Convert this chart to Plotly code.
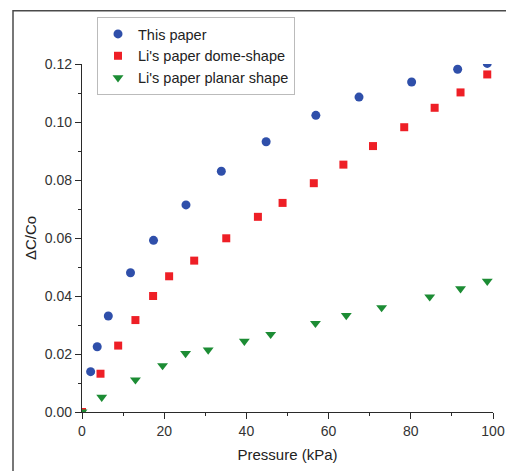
import plotly.graph_objects as go

# Data
x_this = [2.1, 3.7, 6.4, 11.8, 17.4, 25.3, 33.9, 44.8, 56.9, 67.4, 80.2, 91.4, 98.6]
y_this = [0.0139, 0.0225, 0.0331, 0.0480, 0.0592, 0.0714, 0.0830, 0.0932, 0.1023, 0.1086, 0.1138, 0.1182, 0.1202]

x_dome = [0, 4.5, 8.8, 13.0, 17.3, 21.2, 27.3, 35.1, 42.8, 48.8, 56.4, 63.6, 70.8, 78.4, 85.8, 92.1, 98.6]
y_dome = [0, 0.0132, 0.0229, 0.0317, 0.0400, 0.0468, 0.0522, 0.0599, 0.0673, 0.0721, 0.0789, 0.0853, 0.0917, 0.0982, 0.1049, 0.1102, 0.1164]

x_planar = [0, 4.8, 13.0, 19.6, 25.2, 30.7, 39.5, 45.9, 56.8, 64.3, 72.9, 84.6, 92.1, 98.6]
y_planar = [0, 0.0051, 0.0111, 0.0160, 0.0202, 0.0214, 0.0244, 0.0268, 0.0306, 0.0333, 0.0360, 0.0397, 0.0425, 0.0451]

series_names = ["This paper", "Li's paper dome-shape", "Li's paper planar shape"]
x_ticks = [0, 20, 40, 60, 80, 100]
y_ticks = [0.00, 0.02, 0.04, 0.06, 0.08, 0.10, 0.12]

FONT = "Liberation Sans, Arial, Helvetica, sans-serif"

fig = go.Figure()
fig.add_trace(go.Scatter(x=x_this, y=y_this, mode="markers", name=series_names[0],
                         marker=dict(symbol="circle", size=9, color="#2F4FAA")))
fig.add_trace(go.Scatter(x=x_dome, y=y_dome, mode="markers", name=series_names[1],
                         marker=dict(symbol="square", size=8, color="#EE1F26")))
fig.add_trace(go.Scatter(x=x_planar, y=y_planar, mode="markers", name=series_names[2],
                         marker=dict(symbol="triangle-down", size=9.5, color="#1C8C34")))

axis_common = dict(
    showline=True, linecolor="#2A2A2A", linewidth=1.3, mirror=False,
    ticks="outside", ticklen=6, tickwidth=1.2, tickcolor="#2A2A2A",
    showgrid=False, zeroline=False, automargin=False,
    tickfont=dict(family=FONT, size=14, color="#333333"),
)

fig.update_xaxes(
    **axis_common, range=[0, 100], tickvals=x_ticks,
    minor=dict(ticks="outside", ticklen=3, tickwidth=1.2, tickcolor="#2A2A2A", dtick=10, showgrid=False),
    title=dict(text="Pressure (kPa)", font=dict(family=FONT, size=15, color="#222222"), standoff=11),
)
fig.update_yaxes(
    **axis_common, range=[0, 0.12], tickvals=y_ticks, tickformat=".2f",
    minor=dict(ticks="outside", ticklen=3, tickwidth=1.2, tickcolor="#2A2A2A", dtick=0.01, showgrid=False),
    title=dict(text="ΔC/Co", font=dict(family=FONT, size=15, color="#222222"), standoff=4),
)

# outer frame of the original figure (left and top edges visible) drawn in pixel units
fig.add_shape(type="rect", xref="paper", yref="paper", xsizemode="pixel", ysizemode="pixel",
              xanchor=0, yanchor=1, x0=-69, x1=500, y0=54, y1=52.5,
              line=dict(width=0), fillcolor="#4A4A4A")
fig.add_shape(type="rect", xref="paper", yref="paper", xsizemode="pixel", ysizemode="pixel",
              xanchor=0, yanchor=1, x0=-69.75, x1=-68.25, y0=54, y1=-500,
              line=dict(width=0), fillcolor="#4A4A4A")

fig.update_layout(
    width=506, height=471,
    margin=dict(l=82, r=13, t=64, b=59, autoexpand=False),
    paper_bgcolor="white", plot_bgcolor="white",
    font=dict(family=FONT, size=15, color="#222222"),
    legend=dict(x=(97 - 82) / 411, y=(412 - 17) / 348, xanchor="left", yanchor="top",
                bordercolor="#BBBBBB", borderwidth=1, bgcolor="white",
                font=dict(family=FONT, size=14.5, color="#222222"),
                tracegroupgap=0, itemwidth=30),
    showlegend=True,
)

fig.write_html("out.html", config={"displayModeBar": False},
               post_script="document.body.style.margin='0';document.body.style.overflow='hidden';")
